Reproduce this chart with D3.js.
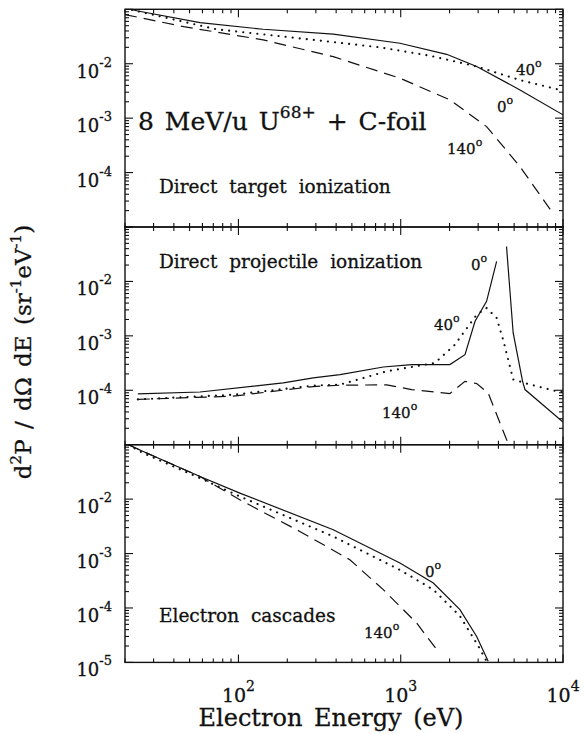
<!DOCTYPE html>
<html lang="en">
<head>
<meta charset="utf-8">
<title>8 MeV/u U68+ + C-foil electron spectra</title>
<style>
  body { margin: 0; background: #fff; }
  svg { display: block; font-family: "DejaVu Serif", serif; fill: #111; }
  text { stroke: #111; stroke-width: 0.3; }
  .frame { fill: none; stroke: #111; stroke-width: 1.4; }
  .tick { stroke: #111; stroke-width: 1.1; }
  .curve { fill: none; stroke: #111; stroke-width: 1.2; }
  .dot { stroke-width: 2.1; stroke-dasharray: 0.1 7; stroke-linecap: round; }
  .dash { stroke-dasharray: 12 7; }
</style>
</head>
<body>
<svg id="chart" width="584" height="734"></svg>

<script src="https://cdn.jsdelivr.net/npm/d3@7"></script>
<script>
// values: [electron energy (eV), d2P/dOmega dE (1/sr/eV)]

// direct target ionization
const target0 = [[20, 0.105], [24, 0.093], [58, 0.057], [142, 0.043], [384, 0.035],
  [989, 0.0238], [1919, 0.0149], [2938, 0.0089], [5433, 0.0033], [10000, 0.00115]];
const target40 = [[20, 0.104], [26, 0.087], [73, 0.043], [289, 0.0275], [745, 0.020],
  [1500, 0.0141], [2938, 0.0089], [5433, 0.0050], [10000, 0.0032]];
const target140 = [[20, 0.080], [46, 0.048], [142, 0.0274], [384, 0.0135], [989, 0.00542],
  [2009, 0.00217], [3381, 0.0007], [5433, 0.000129], [8511, 0.0000193]];

// direct projectile ionization (solid line has a gap left of the peak)
const proj0 = [[24, 0.000086], [58, 0.000093], [189, 0.000137], [289, 0.000169], [423, 0.000194],
  [781, 0.000268], [1167, 0.000296], [2009, 0.000296], [2489, 0.00045], [2871, 0.00185],
  [3381, 0.0043], [3899, 0.0233], [4200, null], [4487, 0.0439], [4932, 0.00113],
  [5636, 0.000146], [5830, 0.000103], [10000, 0.000026]];
const proj40 = [[24, 0.000068], [93, 0.000083], [289, 0.000122], [423, 0.000127], [819, 0.000223],
  [1626, 0.000318], [2158, 0.00069], [2938, 0.00245], [3381, 0.00325], [3899, 0.00213],
  [4276, 0.00085], [4932, 0.000158], [5957, 0.000133], [9120, 0.000096], [10000, 0.000093]];
const proj140 = [[24, 0.000068], [93, 0.000078], [289, 0.000117], [423, 0.000124], [819, 0.000126],
  [1167, 0.000103], [2009, 0.000087], [2489, 0.000146], [2938, 0.000133], [3459, 0.000089],
  [4487, 0.0000125], [4592, 0.0000108]];

// electron cascades
const casc0 = [[21, 0.0995], [24.7, 0.080], [58, 0.026], [102, 0.0129], [384, 0.00274],
  [989, 0.00067], [1588, 0.000288], [2317, 0.000093], [2938, 0.000030], [3459, 0.0000105]];
const casc40 = [[21, 0.0995], [25.9, 0.070], [58, 0.0243], [102, 0.0112], [384, 0.00206],
  [989, 0.0005], [1588, 0.000217], [2317, 0.000071], [3006, 0.00002], [3381, 0.0000105]];
const casc140 = [[21, 0.0995], [24.7, 0.080], [58, 0.026], [102, 0.0097], [239, 0.00255],
  [486, 0.00077], [781, 0.000217], [1253, 0.000053], [1702, 0.0000158]];

const yTickLabels = [[1e-2, 1e-3, 1e-4], [1e-2, 1e-3, 1e-4], [1e-2, 1e-3, 1e-4, 1e-5]];
const xTickLabels = [1e2, 1e3, 1e4];
const panelTitles = ['Direct  target  ionization', 'Direct  projectile  ionization', 'Electron  cascades'];

const svg = d3.select('#chart');
const left = 125, right = 563, panelH = 217.7;
const panelTop = [9.3, 227, 444.7];

const x = d3.scaleLog().domain([20, 1e4]).range([left, right]);

// text with superscripts: parts = [[string, isSup], ...]
function supText(sel, parts, size, supSize, rise) {
  parts.forEach(([s, sup], i) => {
    const prevSup = i > 0 && parts[i - 1][1];
    sel.append('tspan')
      .attr('font-size', sup ? supSize : size)
      .attr('dy', sup ? -rise : (prevSup ? rise : 0))
      .text(s);
  });
  return sel;
}

function degLabel(g, txt, px, py) {
  const t = g.append('text').attr('x', px).attr('y', py);
  supText(t, [[txt, false], ['o', true]], 15, 11, 8);
}

const panels = [
  { series: [target0, target40, target140], title: [159, 193],
    deg: [['40', 516, 75], ['0', 497, 112], ['140', 447, 154]] },
  { series: [proj0, proj40, proj140], title: [159, 268],
    deg: [['0', 471, 270], ['40', 434, 330], ['140', 382, 418]] },
  { series: [casc0, casc40, casc140], title: [159, 622],
    deg: [['0', 425, 577], ['140', 364, 638]] }
];
const styles = ['', 'dot', 'dash'];

panels.forEach((p, i) => {
  const top = panelTop[i];
  const y = d3.scaleLog().domain([1e-5, 1e-1]).range([top + panelH, top]);
  const g = svg.append('g');

  g.append('clipPath').attr('id', 'clip' + i)
    .append('rect').attr('x', left).attr('y', top)
    .attr('width', right - left).attr('height', panelH);

  const line = d3.line()
    .defined(d => d[1] != null)
    .x(d => x(d[0]))
    .y(d => y(d[1]));

  g.append('g').attr('clip-path', `url(#clip${i})`)
    .selectAll('path')
    .data(p.series)
    .join('path')
    .attr('class', (d, k) => 'curve ' + styles[k])
    .attr('d', line);

  // ticks on all four sides, pointing inward
  const isMajor = v => Math.abs(Math.log10(v) - Math.round(Math.log10(v))) < 1e-6;
  const yt = y.ticks().filter(v => v >= 1e-5 && v <= 1e-1);
  yt.forEach(v => {
    const len = isMajor(v) ? 8 : 4;
    g.append('line').attr('class', 'tick')
      .attr('x1', left).attr('x2', left + len).attr('y1', y(v)).attr('y2', y(v));
    g.append('line').attr('class', 'tick')
      .attr('x1', right).attr('x2', right - len).attr('y1', y(v)).attr('y2', y(v));
  });
  const xt = x.ticks();
  xt.forEach(v => {
    const len = isMajor(v) ? 8 : 4;
    g.append('line').attr('class', 'tick')
      .attr('x1', x(v)).attr('x2', x(v)).attr('y1', top).attr('y2', top + len);
    g.append('line').attr('class', 'tick')
      .attr('x1', x(v)).attr('x2', x(v)).attr('y1', top + panelH).attr('y2', top + panelH - len);
  });

  g.append('rect').attr('class', 'frame')
    .attr('x', left).attr('y', top).attr('width', right - left).attr('height', panelH);

  yTickLabels[i].forEach(v => {
    const t = g.append('text').attr('x', 112).attr('y', y(v) + 14).attr('text-anchor', 'end');
    supText(t, [['10', false], [String(Math.round(Math.log10(v))), true]], 18, 13, 11);
  });

  g.append('text').attr('x', p.title[0]).attr('y', p.title[1])
    .attr('font-size', 18.5).attr('word-spacing', 6)
    .text(panelTitles[i]);

  p.deg.forEach(d => degLabel(g, d[0], d[1], d[2]));
});

// reaction label in the top panel
const reaction = svg.append('text').attr('x', 138).attr('y', 130).attr('word-spacing', 3);
supText(reaction, [['8 MeV/u U', false], ['68+', true], [' + C-foil', false]], 25, 17, 12);

// x tick labels
xTickLabels.forEach(v => {
  const t = svg.append('text').attr('x', x(v)).attr('y', 702).attr('text-anchor', 'middle');
  supText(t, [['10', false], [String(Math.round(Math.log10(v))), true]], 19, 14, 11);
});

svg.append('text').attr('x', 331).attr('y', 726).attr('text-anchor', 'middle')
  .attr('font-size', 24).attr('word-spacing', 4)
  .text('Electron Energy (eV)');

// y axis title
const yTitle = svg.append('text')
  .attr('transform', 'translate(31,352) rotate(-90)')
  .attr('text-anchor', 'middle').attr('word-spacing', 3);
supText(yTitle, [['d', false], ['2', true], ['P / dΩ dE (sr', false], ['-1', true],
  ['eV', false], ['-1', true], [')', false]], 23, 15, 10);
</script>
</body>
</html>
